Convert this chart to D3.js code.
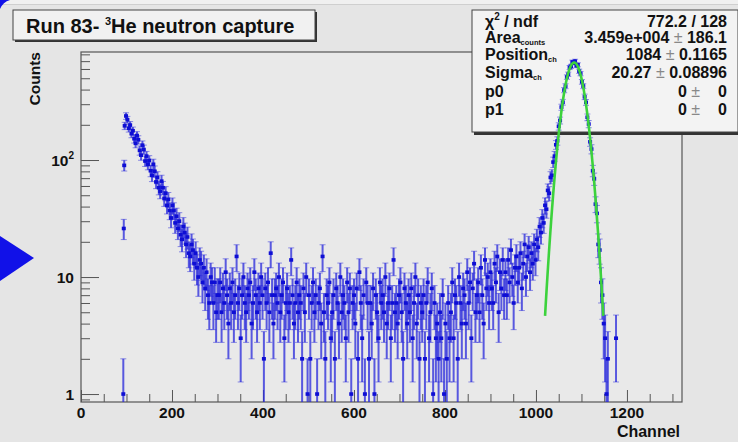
<!DOCTYPE html>
<html>
<head>
<meta charset="utf-8">
<script src="https://cdn.jsdelivr.net/npm/d3@7"></script>
<style>
  body { margin: 0; background: #e4e4e4; }
  text { font-family: "Liberation Sans", Arial, Helvetica, sans-serif; font-weight: bold; fill: #111; }
</style>
</head>
<body>
<script>
// histogram: counts per channel
const leadChannels = [93, 94, 95];
const leadCounts = [1, 26, 90];

const firstChannel = 96;
const binWidth = 3;

const decayCounts = [
  196, 238, 221, 187, 199, 168, 178, 152, 139, 162,
  149, 121, 110, 134, 123, 98, 108, 92, 99, 81,
  74, 92, 80, 65, 71, 58, 54, 66, 58, 47,
  52, 41, 46, 37, 32, 41, 37, 29, 33, 26,
  30, 23, 21, 27, 24, 19, 22, 16, 15, 19,
  17, 13, 16, 12, 10, 14, 13, 9, 12, 8,
  11, 7, 6, 10, 9, 6, 9, 5, 7];

const plateauCounts = [
  7, 9, 5, 8, 6, 11, 7, 4, 8, 6,
  9, 5, 7, 15, 6, 8, 3, 7, 10, 6,
  5, 8, 7, 9, 4, 6, 11, 7, 5, 8,
  6, 10, 7, 2, 8, 6, 9, 5, 16, 7,
  4, 7, 8, 6, 10, 5, 7, 9, 3, 6,
  8, 5, 6, 14, 7, 4, 6, 9, 5, 7,
  6, 2, 8, 5, 10, 1, 7, 2, 6, 9,
  5, 7, 1, 6, 8, 4, 15, 5, 2, 7,
  6, 9, 3, 5, 7, 2, 8, 6, 4, 10,
  5, 7, 6, 3, 9, 5, 8, 1, 6, 7,
  4, 8, 2, 11, 6, 3, 7, 1, 9, 6,
  2, 6, 4, 8, 1, 7, 5, 3, 9, 6,
  7, 5, 10, 4, 6, 8, 3, 6, 14, 5,
  6, 4, 7, 9, 5, 2, 8, 6, 4, 7,
  5, 8, 3, 6, 10, 4, 7, 2, 6, 5,
  7, 2, 6, 9, 3, 5, 8, 1, 6, 3,
  4, 2, 5, 3, 7, 1, 4, 2, 6, 3];

const shoulderCounts = [
  5, 9, 3, 7, 6, 2, 10, 6, 4, 8,
  7, 4, 11, 6, 9, 3, 8, 13, 5, 7,
  9, 5, 12, 7, 4, 14, 8, 10, 6, 11,
  8, 6, 13, 9, 15, 5, 11, 8, 14, 7,
  11, 7, 14, 9, 17, 10, 6, 12, 15, 9,
  12, 16, 8, 13, 19, 10, 15, 18, 11, 16];

const riseCounts = [13, 19, 14, 21, 18, 27, 24, 32, 29, 41, 38, 55, 52, 71, 74, 96];

const peakCounts = [
  108, 135, 146, 194, 218, 283, 312, 396, 428, 512,
  541, 618, 632, 688, 676, 700, 641, 652, 574, 548,
  466, 428, 347, 311, 232, 203, 143, 124, 81, 69,
  42, 35, 19, 17, 9, 7, 4, 3, 1, 2,
  0, 0, 0, 0, 0, 3];

// gaussian + pol1 fit result
const fitArea = 3.459e4;
const fitPosition = 1084;
const fitSigma = 20.27;
const fitP0 = 0;
const fitP1 = 0;
const fitRange = [1020, 1148];

const xTickLabels = [0, 200, 400, 600, 800, 1000, 1200];
const xMinorTicks = d3.range(0, 1301, 50);
const yDecades = [1, 10, 100];
const yMinorTicks = [0.9, 2, 3, 4, 5, 6, 7, 8, 9, 20, 30, 40, 50, 60, 70, 80, 90,
                     200, 300, 400, 500, 600, 700, 800];
const xDomain = [0, 1321];
const yDomain = [0.855, 838];

const W = 738, H = 442;
const plot = {left: 81, right: 682, top: 52, bottom: 402};

const svg = d3.select("body").append("svg")
      .attr("width", W)
      .attr("height", H);

const x = d3.scaleLinear().domain(xDomain).range([plot.left, plot.right]);
const y = d3.scaleLog().domain(yDomain).range([plot.bottom, plot.top]);

svg.append("rect").attr("width", W).attr("height", H).attr("fill", "#e5e5e5");
svg.append("rect").attr("width", W).attr("height", 4).attr("fill", "#f0f0f0");
svg.append("line").attr("x1", 0).attr("x2", W).attr("y1", 4.5).attr("y2", 4.5)
  .attr("stroke", "#cfcfcf");

// little blue marks from the slide
svg.append("path").attr("d", "M0,0 L10,0 Q3,2 0,9 Z").attr("fill", "#1111e8");
svg.append("path").attr("d", "M0,236 L34,258 L0,281 Z").attr("fill", "#1111e8");

// frame
svg.append("rect")
  .attr("x", plot.left).attr("y", plot.top)
  .attr("width", plot.right - plot.left).attr("height", plot.bottom - plot.top)
  .attr("fill", "#e9e9e9")
  .attr("stroke", "#555").attr("stroke-width", 1.2);

const xAxis = d3.axisBottom(x)
      .tickValues(xMinorTicks)
      .tickSize(-8)
      .tickSizeOuter(0)
      .tickFormat("");
const gx = svg.append("g").attr("transform", `translate(0,${plot.bottom})`).call(xAxis);
gx.select(".domain").remove();
gx.selectAll(".tick line").attr("stroke", "#555")
  .filter(d => d % 200 === 0).attr("y2", -12);

const yAxis = d3.axisLeft(y)
      .tickValues(yDecades.concat(yMinorTicks))
      .tickSize(-9)
      .tickSizeOuter(0)
      .tickFormat("");
const gy = svg.append("g").attr("transform", `translate(${plot.left},0)`).call(yAxis);
gy.select(".domain").remove();
gy.selectAll(".tick line").attr("stroke", "#555")
  .filter(d => yDecades.includes(d)).attr("x2", 18);

svg.selectAll(".xlab").data(xTickLabels).join("text")
  .attr("class", "xlab")
  .attr("x", d => x(d)).attr("y", 418)
  .attr("text-anchor", "middle")
  .attr("font-size", 15.5)
  .text(d => d);

const ylab = svg.selectAll(".ylab").data(yDecades).join("text")
  .attr("class", "ylab")
  .attr("x", 74).attr("y", d => y(d) + 5.5)
  .attr("text-anchor", "end")
  .attr("font-size", 15.5);
ylab.append("tspan").text(d => d === 100 ? "10" : d);
ylab.filter(d => d === 100).append("tspan")
  .attr("font-size", 10).attr("dy", -7).text("2");

svg.append("text")
  .attr("x", plot.right - 2).attr("y", 437)
  .attr("text-anchor", "end")
  .attr("font-size", 16)
  .text("Channel");

svg.append("text")
  .attr("transform", `translate(40,${plot.top}) rotate(-90)`)
  .attr("text-anchor", "end")
  .attr("font-size", 15.5)
  .text("Counts");

// stats box
const stats = svg.append("g");
stats.append("rect").attr("x", 474).attr("y", 12).attr("width", 266).attr("height", 123)
  .attr("fill", "#333");
stats.append("rect").attr("x", 472).attr("y", 10).attr("width", 266).attr("height", 122)
  .attr("fill", "#f3f3f3").attr("stroke", "#444").attr("stroke-width", 1);

const statsLeft = [
  {y: 27, main: "\u03c7", sup: "2", rest: " / ndf"},
  {y: 43, main: "Area", sub: "counts"},
  {y: 60, main: "Position", sub: "ch"},
  {y: 78, main: "Sigma", sub: "ch"},
  {y: 97, main: "p0"},
  {y: 115, main: "p1"}];
const statsValues = [
  ["772.2 / 128", null],
  ["3.459e+004", "186.1"],
  ["1084", "0.1165"],
  ["20.27", "0.08896"],
  [String(fitP0), "0"],
  [String(fitP1), "0"]];

statsLeft.forEach((r, i) => {
  const t = stats.append("text").attr("x", 485).attr("y", r.y).attr("font-size", 16);
  t.append("tspan").text(r.main);
  if (r.sup) t.append("tspan").attr("font-size", 10).attr("dy", -7).text(r.sup);
  if (r.rest) t.append("tspan").attr("dy", 7).text(r.rest);
  if (r.sub) t.append("tspan").attr("font-size", 7.5).attr("dy", 2).text(r.sub);

  const [v, e] = statsValues[i];
  if (i >= 4) {
    const a = stats.append("text").attr("x", 700).attr("y", r.y)
      .attr("text-anchor", "end").attr("font-size", 16);
    a.append("tspan").text(v + " ");
    a.append("tspan").attr("fill", "#888").attr("font-weight", "normal").text("\u00b1");
    stats.append("text").attr("x", 727).attr("y", r.y)
      .attr("text-anchor", "end").attr("font-size", 16).text(e);
  } else {
    const a = stats.append("text").attr("x", 727).attr("y", r.y)
      .attr("text-anchor", "end").attr("font-size", 16);
    a.append("tspan").text(v);
    if (e) {
      a.append("tspan").attr("fill", "#888").attr("font-weight", "normal").text(" \u00b1 ");
      a.append("tspan").text(e);
    }
  }
});

// title box
svg.append("rect").attr("x", 15).attr("y", 12).attr("width", 302).attr("height", 30)
  .attr("fill", "#333");
svg.append("rect").attr("x", 13).attr("y", 10).attr("width", 302).attr("height", 30)
  .attr("fill", "#f1f1f1").attr("stroke", "#444").attr("stroke-width", 1);
const title = svg.append("text").attr("x", 26).attr("y", 33).attr("font-size", 20);
title.append("tspan").text("Run 83- ");
title.append("tspan").attr("font-size", 11).attr("dy", -8).text("3");
title.append("tspan").attr("dy", 8).text("He neutron capture");

// histogram
const mainCounts = decayCounts.concat(plateauCounts, shoulderCounts, riseCounts, peakCounts);
const bins = leadChannels.map((c, i) => ({ch: c, n: leadCounts[i]}))
  .concat(mainCounts.map((n, i) => ({ch: firstChannel + i * binWidth, n: n})))
  .filter(b => b.n > 0);

svg.append("clipPath").attr("id", "clip").append("rect")
  .attr("x", plot.left).attr("y", plot.top - 8)
  .attr("width", plot.right - plot.left).attr("height", plot.bottom - plot.top + 8);

const hist = svg.append("g").attr("clip-path", "url(#clip)");
const errTop = b => y(b.n + Math.sqrt(b.n));
const errBot = b => {
  const lo = b.n - Math.sqrt(b.n);
  return lo > yDomain[0] ? y(lo) : plot.bottom;
};
const barColor = "#2a2adc";

hist.selectAll(".err").data(bins).join("line")
  .attr("class", "err")
  .attr("x1", b => x(b.ch)).attr("x2", b => x(b.ch))
  .attr("y1", errTop).attr("y2", errBot)
  .attr("stroke", barColor).attr("stroke-opacity", 0.76).attr("stroke-width", 2);

hist.selectAll(".capT").data(bins).join("line")
  .attr("class", "capT")
  .attr("x1", b => x(b.ch) - 3).attr("x2", b => x(b.ch) + 3)
  .attr("y1", errTop).attr("y2", errTop)
  .attr("stroke", barColor).attr("stroke-opacity", 0.5);

hist.selectAll(".capB").data(bins.filter(b => errBot(b) < plot.bottom)).join("line")
  .attr("class", "capB")
  .attr("x1", b => x(b.ch) - 3).attr("x2", b => x(b.ch) + 3)
  .attr("y1", errBot).attr("y2", errBot)
  .attr("stroke", barColor).attr("stroke-opacity", 0.5);

hist.selectAll(".pt").data(bins).join("rect")
  .attr("class", "pt")
  .attr("x", b => x(b.ch) - 2).attr("y", b => y(b.n) - 1.8)
  .attr("width", 4).attr("height", 3.6)
  .attr("fill", "#0e0ed4");

// fit curve
const fitFn = c => fitArea / (fitSigma * Math.sqrt(2 * Math.PI)) *
      Math.exp(-0.5 * Math.pow((c - fitPosition) / fitSigma, 2)) + fitP0 + fitP1 * c;
const fitLine = d3.line().x(c => x(c)).y(c => y(fitFn(c)));
hist.append("path")
  .attr("d", fitLine(d3.range(fitRange[0], fitRange[1] + 0.01, 0.5)))
  .attr("fill", "none")
  .attr("stroke", "#3cd23c")
  .attr("stroke-width", 2.6);
</script>
</body>
</html>
